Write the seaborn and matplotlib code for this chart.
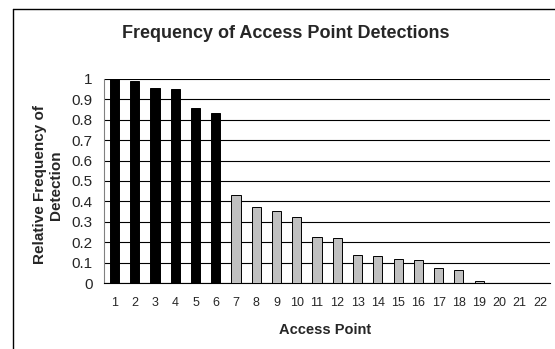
import matplotlib
matplotlib.use("Agg")
import matplotlib.pyplot as plt
import seaborn as sns
from matplotlib.lines import Line2D

# ------------------- Data ------------------------
access_points = [str(i) for i in range(1, 23)]
rel_freq = [1.0, 0.99, 0.955, 0.95, 0.858, 0.832, 0.433, 0.37, 0.353, 0.322,
            0.224, 0.221, 0.137, 0.132, 0.118, 0.113, 0.074, 0.064, 0.01,
            0.0, 0.0, 0.0]
bar_colors = ["black"] * 6 + ["#c0c0c0"] * 16

sns.set_style("white")
plt.rcParams["font.family"] = ["Liberation Sans", "DejaVu Sans"]

fig = plt.figure(figsize=(5.55, 3.49), dpi=100)
ax = fig.add_axes([0.188, 0.189, 0.803, 0.585])

sns.barplot(x=access_points, y=rel_freq, hue=access_points, palette=bar_colors,
            legend=False, width=0.45, edgecolor="black", linewidth=0.7,
            saturation=1, ax=ax, zorder=3)

# ------------------- Axes styling ------------------
ax.set_ylim(0, 1)
ax.set_xlim(-0.5, 21.5)
ax.set_yticks([i / 10 for i in range(11)])
ax.set_yticklabels(["0", "0.1", "0.2", "0.3", "0.4", "0.5", "0.6", "0.7", "0.8", "0.9", "1"],
                   fontsize=11)
ax.grid(axis="y", color="black", linewidth=0.8, zorder=0)
ax.set_axisbelow(True)

ax.set_xticks(range(22))
ax.set_xticklabels(access_points, fontsize=9)
ax.set_xticks([i - 0.5 for i in range(23)], minor=True)
ax.tick_params(axis="x", which="major", length=0, pad=10)
ax.tick_params(axis="x", which="minor", length=3.5, width=0.8, color="black", direction="out")
ax.tick_params(axis="y", length=3.3, width=0.8, color="#808080", direction="out", pad=5)

for side in ["top", "right"]:
    ax.spines[side].set_visible(False)
ax.spines["left"].set_color("#808080")
ax.spines["bottom"].set_color("black")
ax.spines["left"].set_linewidth(0.8)
ax.spines["bottom"].set_linewidth(0.8)

ax.set_xlabel("")
ax.set_ylabel("")

# ------------------- Text ------------------------
fig.text(0.514, 0.905, "Frequency of Access Point Detections", ha="center", va="center",
         fontsize=13, fontweight="bold")
fig.text(0.586, 0.054, "Access Point", ha="center", va="center",
         fontsize=10.5, fontweight="bold")
fig.text(0.087, 0.47, "Relative Frequency of\nDetection", ha="center", va="center",
         rotation=90, fontsize=11, fontweight="bold", linespacing=1.2)

# outer chart frame
fig.add_artist(Line2D([0.023, 0.023], [0, 0.973], color="black", linewidth=1))
fig.add_artist(Line2D([0.023, 1], [0.973, 0.973], color="black", linewidth=1))

fig.savefig("out.png", dpi=100)
